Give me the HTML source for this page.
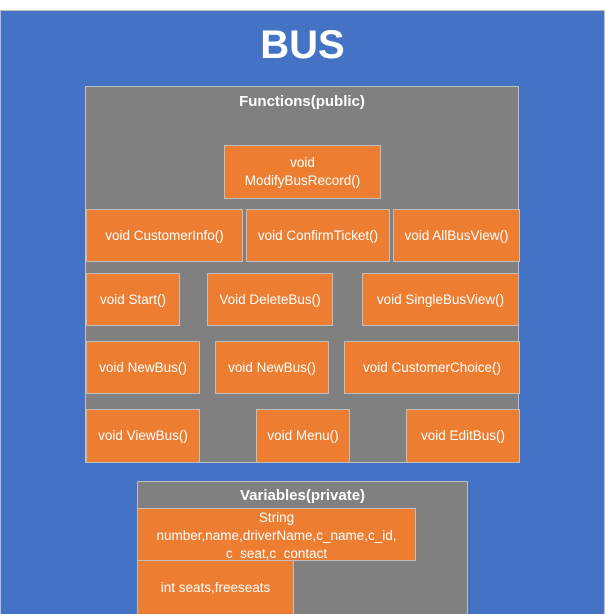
<!DOCTYPE html>
<html style="overflow:hidden"><head><style>
html,body{margin:0;width:605px;height:614px;overflow:hidden}
body{background:#fff;position:relative;font-family:"Liberation Sans",sans-serif}
.a{position:absolute;box-sizing:border-box}
.bg{left:0;top:10px;width:605px;height:604px;background:#4472C4;border:1px solid #bfbfbf;border-bottom:none}
.g{background:#808080;border:1px solid #bfbfbf}
.o{background:#ED7D31;border:1px solid #bfbfbf;color:#fff;font-size:13.5px;display:flex;align-items:center;justify-content:center;text-align:center;line-height:18px}
.t{color:#fff;font-weight:bold;text-align:center}
</style></head><body>
<div class="a bg"></div>
<div class="a t" style="left:0;top:20px;width:605px;font-size:40px;line-height:50px">BUS</div>
<div class="a g" style="left:85px;top:86px;width:434px;height:377px"></div>
<div class="a t" style="left:85px;top:93px;width:434px;font-size:15px">Functions(public)</div>
<div class="a o" style="left:224px;top:145px;width:157px;height:54px">void<br>ModifyBusRecord()</div>
<div class="a o" style="left:86px;top:209px;width:157px;height:53px">void CustomerInfo()</div>
<div class="a o" style="left:246px;top:209px;width:144px;height:53px">void ConfirmTicket()</div>
<div class="a o" style="left:393px;top:209px;width:127px;height:53px">void AllBusView()</div>
<div class="a o" style="left:86px;top:273px;width:94px;height:53px">void Start()</div>
<div class="a o" style="left:207px;top:273px;width:126px;height:53px">Void DeleteBus()</div>
<div class="a o" style="left:362px;top:273px;width:157px;height:53px">void SingleBusView()</div>
<div class="a o" style="left:86px;top:341px;width:114px;height:53px">void NewBus()</div>
<div class="a o" style="left:215px;top:341px;width:114px;height:53px">void NewBus()</div>
<div class="a o" style="left:344px;top:341px;width:176px;height:53px">void CustomerChoice()</div>
<div class="a o" style="left:86px;top:409px;width:114px;height:54px">void ViewBus()</div>
<div class="a o" style="left:256px;top:409px;width:94px;height:54px">void Menu()</div>
<div class="a o" style="left:406px;top:409px;width:114px;height:54px">void EditBus()</div>
<div class="a g" style="left:137px;top:481px;width:331px;height:133px;border-bottom:none"></div>
<div class="a t" style="left:137px;top:487px;width:331px;font-size:15px">Variables(private)</div>
<div class="a o" style="left:137px;top:508px;width:279px;height:53px;align-items:flex-start;overflow:hidden">String<br>number,name,driverName,c_name,c_id,<br>c_seat,c_contact</div>
<div class="a o" style="left:137px;top:560px;width:157px;height:54px;border-bottom:none">int seats,freeseats</div>
</body></html>
